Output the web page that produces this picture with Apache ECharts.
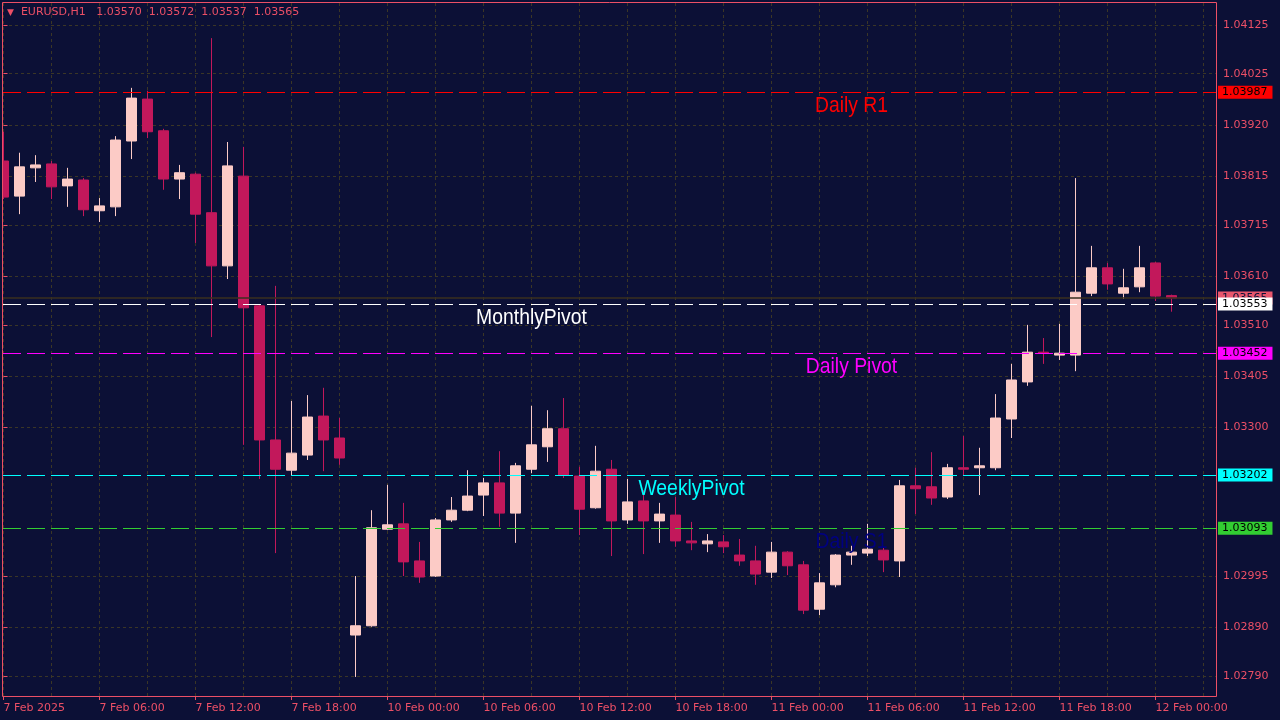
<!DOCTYPE html>
<html>
<head>
<meta charset="utf-8">
<script src="https://cdn.jsdelivr.net/npm/echarts@6/dist/echarts.min.js"></script>
<style>
html,body{margin:0;padding:0;background:#0c1036;}
#chart{width:1280px;height:720px;}
</style>
</head>
<body>
<div id="chart"></div>
<script>
// ---------------- data ----------------
const symbolName = 'EURUSD,H1';
// hourly candles, 7 Feb 2025 00:00 ... 12 Feb 2025 01:00 (weekend skipped)
const open = [1.03846,1.03774,1.03832,1.03840,1.03795,1.03807,1.03744,1.03752,1.03887,1.03973,
  1.03908,1.03809,1.03819,1.03740,1.03631,1.03815,1.03549,1.03274,1.03212,1.03243,
  1.03323,1.03278,1.02874,1.02893,1.03091,1.03102,1.03026,1.02995,1.03110,1.03130,
  1.03161,1.03186,1.03124,1.03214,1.03260,1.03297,1.03200,1.03135,1.03214,1.03110,
  1.03149,1.03108,1.03120,1.03067,1.03061,1.03065,1.03038,1.03026,1.03003,1.03044,
  1.03018,1.02927,1.02977,1.03038,1.03042,1.03048,1.03026,1.03180,1.03178,1.03157,
  1.03217,1.03217,1.03217,1.03317,1.03393,1.03454,1.03448,1.03448,1.03575,1.03627,
  1.03575,1.03588,1.03637,1.03570];
const close = [1.03772,1.03834,1.03838,1.03793,1.03809,1.03746,1.03754,1.03889,1.03975,1.03906,
  1.03809,1.03822,1.03737,1.03631,1.03836,1.03545,1.03274,1.03214,1.03247,1.03321,
  1.03274,1.03237,1.02893,1.03094,1.03100,1.03024,1.02993,1.03110,1.03130,1.03159,
  1.03186,1.03124,1.03221,1.03264,1.03297,1.03202,1.03132,1.03210,1.03108,1.03147,
  1.03108,1.03122,1.03067,1.03063,1.03067,1.03055,1.03026,1.02999,1.03044,1.03016,
  1.02925,1.02981,1.03038,1.03044,1.03050,1.03028,1.03180,1.03174,1.03155,1.03217,
  1.03214,1.03221,1.03319,1.03397,1.03454,1.03452,1.03452,1.03577,1.03627,1.03594,
  1.03586,1.03627,1.03569,1.03565];
const high = [1.03906,1.03863,1.03858,1.03846,1.03832,1.03811,1.03770,1.03897,1.03996,1.03990,
  1.03912,1.03838,1.03822,1.04098,1.03885,1.03875,1.03551,1.03590,1.03354,1.03366,
  1.03381,1.03319,1.02995,1.03130,1.03182,1.03145,1.03065,1.03114,1.03157,1.03212,
  1.03196,1.03251,1.03227,1.03344,1.03335,1.03360,1.03219,1.03262,1.03233,1.03194,
  1.03171,1.03145,1.03157,1.03106,1.03081,1.03079,1.03071,1.03057,1.03065,1.03046,
  1.03026,1.03001,1.03040,1.03057,1.03102,1.03053,1.03192,1.03217,1.03249,1.03225,
  1.03282,1.03258,1.03368,1.03430,1.03510,1.03483,1.03512,1.03811,1.03672,1.03637,
  1.03625,1.03672,1.03639,1.03572];
const low = [1.03768,1.03737,1.03803,1.03768,1.03752,1.03733,1.03721,1.03733,1.03850,1.03893,
  1.03787,1.03768,1.03678,1.03485,1.03604,1.03264,1.03194,1.03042,1.03202,1.03233,
  1.03210,1.03223,1.02788,1.02891,1.03089,1.02995,1.02981,1.02993,1.03106,1.03128,
  1.03118,1.03096,1.03063,1.03206,1.03229,1.03196,1.03079,1.03133,1.03036,1.03102,
  1.03040,1.03063,1.03055,1.03048,1.03044,1.03042,1.03016,1.02977,1.02991,1.02997,
  1.02917,1.02915,1.02972,1.03018,1.03036,1.03003,1.02993,1.03122,1.03141,1.03153,
  1.03200,1.03161,1.03212,1.03278,1.03385,1.03430,1.03438,1.03415,1.03569,1.03582,
  1.03563,1.03577,1.03559,1.03537];

// time axis labels (bar index -> label)
const xTickValues = [0,6,12,18,24,30,36,42,48,54,60,66,72];
const xTickLabels = ['7 Feb 2025','7 Feb 06:00','7 Feb 12:00','7 Feb 18:00','10 Feb 00:00','10 Feb 06:00',
  '10 Feb 12:00','10 Feb 18:00','11 Feb 00:00','11 Feb 06:00','11 Feb 12:00','11 Feb 18:00','12 Feb 00:00'];
const xGridValues = [0,3,6,9,12,15,18,21,24,27,30,33,36,39,42,45,48,51,54,57,60,63,66,69,72,75];

// price axis labels
const yTickValues = [1.04125,1.04025,1.03920,1.03815,1.03715,1.03610,1.03510,1.03405,1.03300,1.02995,1.02890,1.02790];

// pivot levels
const pivotNames = ['Daily R1','MonthlyPivot','Daily Pivot','WeeklyPivot','Daily S1'];
const pivotValues = [1.03987,1.03553,1.03452,1.03202,1.03093];

// ---------------- style ----------------
const BG = '#0c1036';
const AXIS = '#ec4f66';
const GRIDC = '#3b3626';
const BULL = '#fccbc6';
const BEAR = '#c2185b';
const pivotLineColors = ['#ff0000','#ffffff','#ff00ff','#00ffff','#32cd32'];
const pivotTextColors = ['#ff0000','#ffffff','#ff00ff','#00ffff','#000080'];
const pivotLabelAt = [53,33,53,43,53];
const FONT = 'DejaVu Sans';

const last = open.length - 1;
const f5 = v => Number(v).toFixed(5);
const candles = open.map((o, i) => [i, o, close[i], low[i], high[i]]);

const chart = echarts.init(document.getElementById('chart'), null, {renderer: 'canvas'});

const tagLabel = (bg, fg) => ({
  show: true, position: 'end', distance: 2, formatter: p => f5(p.value),
  backgroundColor: bg, color: fg, fontFamily: FONT, fontSize: 11, lineHeight: 11, padding: [1, 5, 1, 4]
});

const option = {
  animation: false,
  backgroundColor: BG,
  title: {
    left: 7, top: 7, padding: 0,
    text: '{t|▼}  ' + symbolName + '   ' + f5(open[last]) + '  ' + f5(high[last]) + '  ' + f5(low[last]) + '  ' + f5(close[last]),
    textStyle: {
      color: AXIS, fontFamily: FONT, fontSize: 11, fontWeight: 'normal',
      rich: { t: { color: AXIS, fontSize: 9, fontFamily: FONT } }
    }
  },
  grid: { left: 3, top: 3, right: 64, bottom: 24, show: false },
  xAxis: [{
    type: 'value', min: -0.03125, max: 75.78125, position: 'bottom',
    axisLine: { show: false },
    axisTick: { show: true, customValues: xTickValues, length: 4, lineStyle: { color: AXIS } },
    axisLabel: {
      customValues: xTickValues, align: 'left', margin: 7,
      color: AXIS, fontFamily: FONT, fontSize: 11,
      formatter: v => xTickLabels[xTickValues.indexOf(Math.round(v))] || ''
    },
    splitLine: { show: false }
  }, {
    type: 'value', min: -0.03125, max: 75.78125, position: 'bottom',
    axisLine: { show: false }, axisLabel: { show: false },
    axisTick: { show: false, customValues: xGridValues },
    splitLine: { show: true, lineStyle: { color: GRIDC, type: [3, 3], width: 1 } }
  }],
  yAxis: {
    type: 'value', position: 'right', scale: true, min: 1.02749, max: 1.04170,
    axisLine: { show: false },
    axisTick: { show: true, customValues: yTickValues, length: 4, lineStyle: { color: AXIS } },
    axisLabel: { customValues: yTickValues, margin: 7, color: AXIS, fontFamily: FONT, fontSize: 11, formatter: v => f5(v) },
    splitLine: { show: true, lineStyle: { color: GRIDC, type: [3, 3], width: 1 } }
  },
  graphic: [{
    type: 'rect', left: 0, top: 0, z: 100, silent: true,
    shape: { width: 2, height: 697 }, style: { fill: BG }
  }, {
    type: 'rect', z: 101, silent: true,
    shape: { x: 2.5, y: 2.5, width: 1214, height: 694 },
    style: { fill: 'none', stroke: AXIS, lineWidth: 1 }
  }],
  series: [{
    name: symbolName, type: 'candlestick', xAxisIndex: 0, yAxisIndex: 0,
    barWidth: 10, clip: true, z: 2,
    itemStyle: { color: BULL, color0: BEAR, borderColor: BULL, borderColor0: BEAR, borderColorDoji: BEAR, borderWidth: 1 },
    data: candles,
    markLine: {
      silent: true, symbol: ['none', 'none'], animation: false, precision: 5,
      data: [{
        yAxis: close[last],
        lineStyle: { color: '#3a2f1f', type: 'solid', width: 1.5 },
        label: tagLabel('#e8566c', BG)
      }]
    }
  }, {
    name: 'pivotTags', type: 'line', data: [], xAxisIndex: 0, yAxisIndex: 0, z: 4,
    markLine: {
      silent: true, symbol: ['none', 'none'], animation: false, precision: 5,
      data: pivotValues.map((v, k) => ({
        yAxis: v,
        lineStyle: { color: 'rgba(0,0,0,0)', width: 1 },
        label: tagLabel(pivotLineColors[k], '#000000')
      }))
    }
  }, {
    name: 'pivotLines', type: 'custom', xAxisIndex: 0, yAxisIndex: 0, z: 10, silent: true,
    data: pivotValues.map((v, k) => [pivotLabelAt[k], v]),
    renderItem: (params, api) => {
      const k = params.dataIndex;
      const cs = params.coordSys;
      const p = api.coord([api.value(0), api.value(1)]);
      const yLine = Math.round(p[1]) + 0.5;
      return {
        type: 'group',
        children: [{
          type: 'line',
          shape: { x1: cs.x, y1: yLine, x2: cs.x + cs.width, y2: yLine },
          style: { stroke: pivotLineColors[k], lineWidth: 1, lineDash: [18, 6] }
        }, {
          type: 'text', x: p[0], y: yLine + 13, scaleX: 0.88,
          style: { text: pivotNames[k], fill: pivotTextColors[k], fontFamily: 'Liberation Sans', fontSize: 22,
            align: 'center', verticalAlign: 'middle' }
        }]
      };
    }
  }]
};
chart.setOption(option);
</script>
</body>
</html>
